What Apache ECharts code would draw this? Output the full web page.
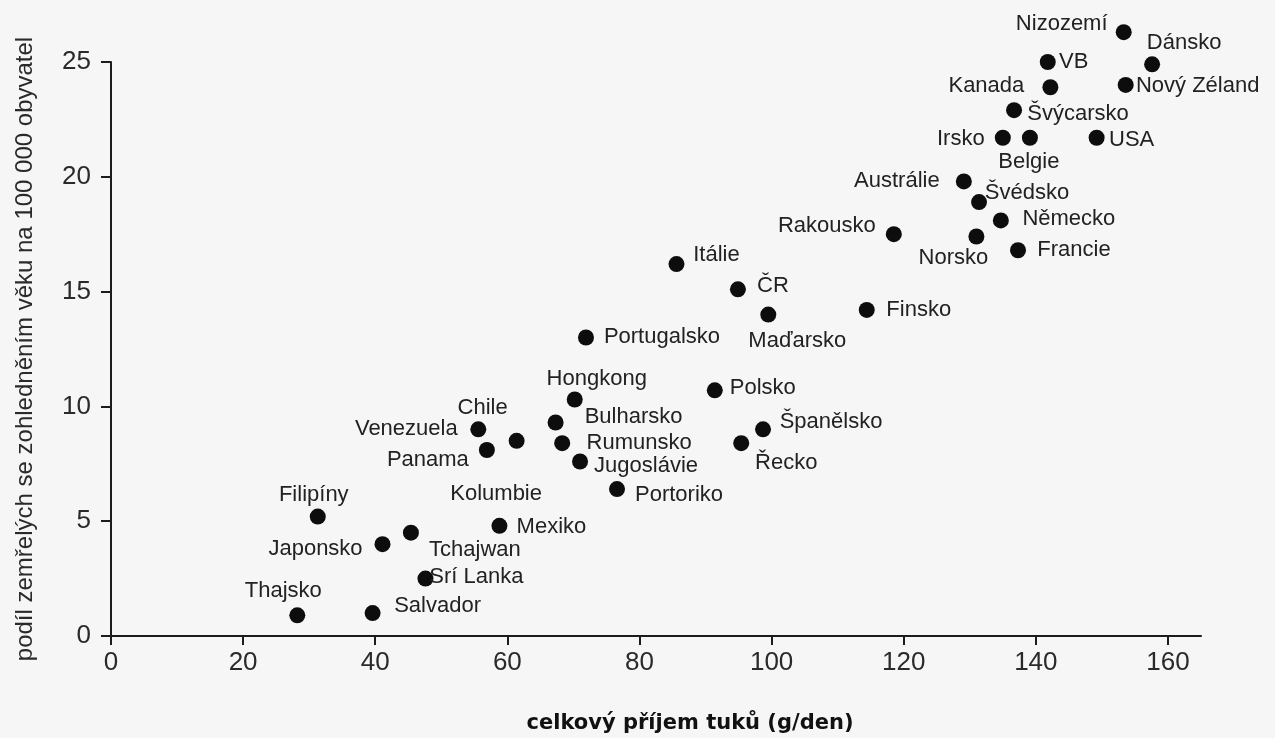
<!DOCTYPE html>
<html>
<head>
<meta charset="utf-8">
<title>Příjem tuků a úmrtnost</title>
<script src="https://cdn.jsdelivr.net/npm/echarts@6/dist/echarts.min.js"></script>
<style>
    html, body { margin: 0; padding: 0; background: #f6f6f7; }
    #chart { width: 1275px; height: 738px; }
</style>
</head>
<body>
<div id="chart"></div>
<script>
// země a hodnoty
const countries = [
    'Nizozemí', 'Dánsko', 'VB', 'Kanada', 'Nový Zéland', 'Švýcarsko', 'Irsko', 'Belgie', 'USA',
    'Austrálie', 'Švédsko', 'Německo', 'Rakousko', 'Norsko', 'Francie', 'Itálie', 'ČR', 'Finsko',
    'Maďarsko', 'Portugalsko', 'Polsko', 'Hongkong', 'Bulharsko', 'Španělsko', 'Venezuela', 'Chile',
    'Rumunsko', 'Řecko', 'Panama', 'Jugoslávie', 'Portoriko', 'Filipíny', 'Mexiko', 'Tchajwan',
    'Japonsko', 'Srí Lanka', 'Thajsko', 'Salvador', 'Kolumbie'
];
const fatIntake = [
    153.3, 157.6, 141.8, 142.2, 153.6, 136.7, 135.0, 139.1, 149.2,
    129.1, 131.4, 134.7, 118.5, 131.0, 137.3, 85.6, 94.9, 114.4,
    99.5, 71.9, 91.4, 70.2, 67.3, 98.7, 55.6, 61.4,
    68.3, 95.4, 56.9, 71.0, 76.6, 31.3, 58.8, 45.4,
    41.1, 47.6, 28.2, 39.6, 58.3
];
const deathRate = [
    26.3, 24.9, 25.0, 23.9, 24.0, 22.9, 21.7, 21.7, 21.7,
    19.8, 18.9, 18.1, 17.5, 17.4, 16.8, 16.2, 15.1, 14.2,
    14.0, 13.0, 10.7, 10.3, 9.3, 9.0, 9.0, 8.5,
    8.4, 8.4, 8.1, 7.6, 6.4, 5.2, 4.8, 4.5,
    4.0, 2.5, 0.9, 1.0, 6.2
];
const xTicks = [0, 20, 40, 60, 80, 100, 120, 140, 160];
const yTicks = [0, 5, 10, 15, 20, 25];

// posun popisku od středu bodu (px)
const labelOffsets = {
    'Nizozemí': [-62, -8], 'Dánsko': [32, -21], 'VB': [26, 0], 'Kanada': [-64, -1],
    'Nový Zéland': [72, 1], 'Švýcarsko': [64, 4], 'Irsko': [-42, 1], 'Belgie': [-1, 24],
    'USA': [35, 2], 'Austrálie': [-67, 0], 'Švédsko': [48, -9], 'Německo': [68, -1],
    'Rakousko': [-67, -8], 'Norsko': [-23, 21], 'Francie': [56, 0], 'Itálie': [40, -9],
    'ČR': [35, -3], 'Finsko': [52, 0], 'Maďarsko': [29, 26], 'Portugalsko': [76, -1],
    'Polsko': [48, -2], 'Hongkong': [22, -21], 'Bulharsko': [78, -6], 'Španělsko': [68, -7],
    'Venezuela': [-72, 0], 'Chile': [-34, -33], 'Rumunsko': [77, 0], 'Řecko': [45, 20],
    'Panama': [-59, 10], 'Jugoslávie': [66, 4], 'Portoriko': [62, 6], 'Filipíny': [-4, -22],
    'Mexiko': [52, 1], 'Tchajwan': [64, 17], 'Japonsko': [-67, 5], 'Srí Lanka': [51, -2],
    'Thajsko': [-14, -24], 'Salvador': [65, -7], 'Kolumbie': [0, 0]
};
// bod Kolumbie v předloze není vidět, jen popisek
const hiddenDots = ['Kolumbie'];

const textFont = "'Liberation Sans', Arial, sans-serif";
const ink = '#1c1c1c';

const points = countries.map((name, i) => {
    const item = {
        name: name,
        value: [fatIntake[i], deathRate[i]],
        label: { offset: labelOffsets[name] || [0, 0] }
    };
    if (hiddenDots.includes(name)) item.symbolSize = 0;
    return item;
});

const chart = echarts.init(document.getElementById('chart'));

chart.setOption({
    backgroundColor: '#f6f6f7',
    animation: false,
    grid: { left: 111, right: 74, top: 62, bottom: 102, outerBoundsMode: 'none' },
    xAxis: {
        type: 'value',
        min: 0,
        max: 165,
        interval: 20,
        name: 'celkový příjem tuků (g/den)',
        nameLocation: 'middle',
        nameGap: 77,
        nameTextStyle: {
            fontFamily: "'DejaVu Sans', sans-serif",
            fontWeight: 'bold',
            fontSize: 21,
            color: '#111',
            padding: [0, 0, 0, 68]
        },
        axisLine: { onZero: false, lineStyle: { color: ink, width: 2 } },
        axisTick: { length: 9, lineStyle: { color: ink, width: 2 }, customValues: xTicks },
        axisLabel: {
            customValues: xTicks,
            margin: 14,
            fontSize: 26,
            fontFamily: textFont,
            color: '#2a2a2a'
        },
        splitLine: { show: false }
    },
    yAxis: {
        type: 'value',
        min: 0,
        max: 25,
        interval: 5,
        name: 'podíl zemřelých se zohledněním věku na 100 000 obyvatel',
        nameLocation: 'middle',
        nameGap: 74,
        nameTextStyle: {
            fontFamily: textFont,
            fontSize: 24,
            color: '#2a2a2a'
        },
        axisLine: { onZero: false, lineStyle: { color: ink, width: 2 } },
        axisTick: { length: 10, lineStyle: { color: ink, width: 2 }, customValues: yTicks },
        axisLabel: {
            customValues: yTicks,
            margin: 20,
            fontSize: 26,
            fontFamily: textFont,
            color: '#2a2a2a'
        },
        splitLine: { show: false }
    },
    series: [{
        type: 'scatter',
        symbol: 'circle',
        symbolSize: 16,
        clip: false,
        itemStyle: { color: '#0d0d0d', opacity: 1 },
        label: {
            show: true,
            formatter: '{b}',
            position: 'inside',
            align: 'center',
            verticalAlign: 'middle',
            color: '#222',
            fontSize: 22,
            fontFamily: textFont
        },
        emphasis: { disabled: true },
        data: points
    }]
});

window.addEventListener('resize', () => chart.resize());
</script>
</body>
</html>
